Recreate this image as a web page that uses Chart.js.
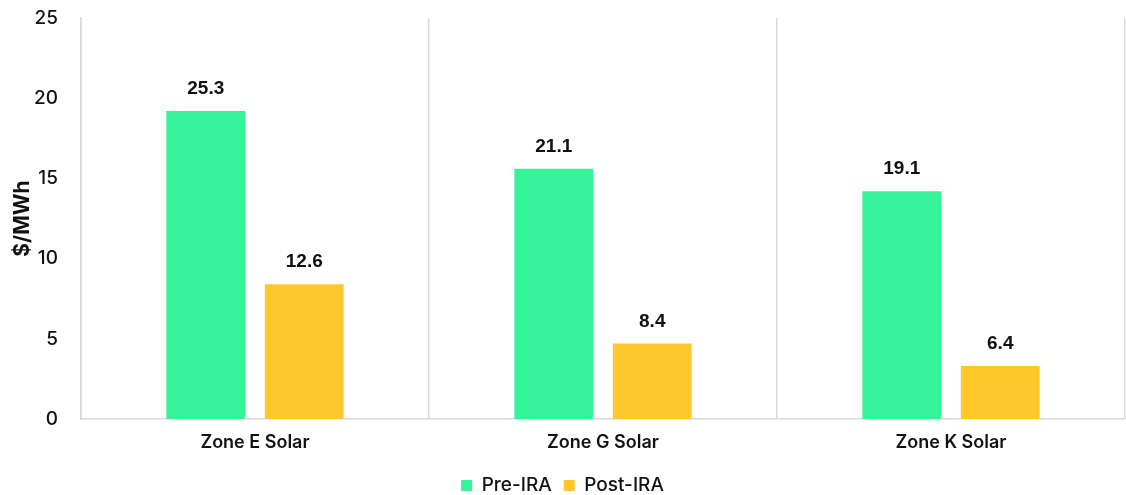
<!DOCTYPE html>
<html>
<head>
<meta charset="utf-8">
<script src="https://cdn.jsdelivr.net/npm/chart.js@4/dist/chart.umd.min.js"></script>
<style>
  html, body { margin: 0; padding: 0; background: #ffffff; }
  #wrap { width: 1126px; height: 495px; position: relative; }
</style>
</head>
<body>
<div id="wrap"><canvas id="chart"></canvas></div>
<script>
// Categories and series
const zones = ['Zone E Solar', 'Zone G Solar', 'Zone K Solar'];
const preIraBars = [19.2, 15.6, 14.2];
const postIraBars = [8.4, 4.7, 3.3];
// printed labels above the bars
const preIraLabels = ['25.3', '21.1', '19.1'];
const postIraLabels = ['12.6', '8.4', '6.4'];
const yTicks = [0, 5, 10, 15, 20, 25];

const GREEN = '#34F399';
const YELLOW = '#FFC72C';
const GRID = '#d9d9d9';

// Draws the printed labels above each bar
const barLabels = {
    id: 'barLabels',
    afterDatasetsDraw(chart) {
        const ctx = chart.ctx;
        const sets = [preIraLabels, postIraLabels];
        ctx.save();
        ctx.font = 'bold 19px "Liberation Sans", Arial, sans-serif';
        ctx.fillStyle = '#111111';
        ctx.textAlign = 'center';
        ctx.textBaseline = 'middle';
        sets.forEach((labels, di) => {
            chart.getDatasetMeta(di).data.forEach((bar, i) => {
                ctx.fillText(labels[i], bar.x, bar.y - 22);
            });
        });
        ctx.restore();
    }
};

new Chart(document.getElementById('chart'), {
    type: 'bar',
    data: {
        labels: zones,
        datasets: [
            { label: 'Pre-IRA', data: preIraBars, backgroundColor: GREEN },
            { label: 'Post-IRA', data: postIraBars, backgroundColor: YELLOW }
        ]
    },
    options: {
        responsive: true,
        maintainAspectRatio: false,
        animation: false,
        categoryPercentage: 0.566,
        barPercentage: 0.8,
        layout: { padding: { top: 18, right: 1, left: 0, bottom: -10 } },
        plugins: {
            tooltip: { enabled: false },
            legend: {
                position: 'bottom',
                labels: {
                    boxWidth: 11,
                    boxHeight: 11,
                    padding: 12,
                    color: '#111111',
                    font: { family: 'Inter', size: 19, weight: 500 }
                }
            }
        },
        scales: {
            x: {
                grid: { display: true, color: GRID, lineWidth: 1.5, drawTicks: false },
                border: { display: true, color: GRID, width: 1.5 },
                ticks: {
                    padding: 13,
                    color: '#111111',
                    font: { family: 'Inter', size: 18, weight: 600 }
                },
                afterFit(scale) { scale.height = 45; }
            },
            y: {
                min: 0,
                max: 25,
                afterBuildTicks(scale) { scale.ticks = yTicks.map(v => ({ value: v })); },
                grid: { display: false },
                border: { display: true, color: GRID, width: 1.5 },
                ticks: {
                    padding: 15,
                    color: '#111111',
                    font: { family: 'Inter', size: 19, weight: 500 }
                },
                title: {
                    display: true,
                    text: '$/MWh',
                    color: '#111111',
                    padding: { top: 10, bottom: 0 },
                    font: { family: 'Inter', size: 21, weight: 'bold' }
                },
                afterFit(scale) {
                    scale.width = 81;
                    scale.paddingTop = 0;
                    scale.paddingBottom = 0;
                }
            }
        }
    },
    plugins: [barLabels]
});
</script>
</body>
</html>
